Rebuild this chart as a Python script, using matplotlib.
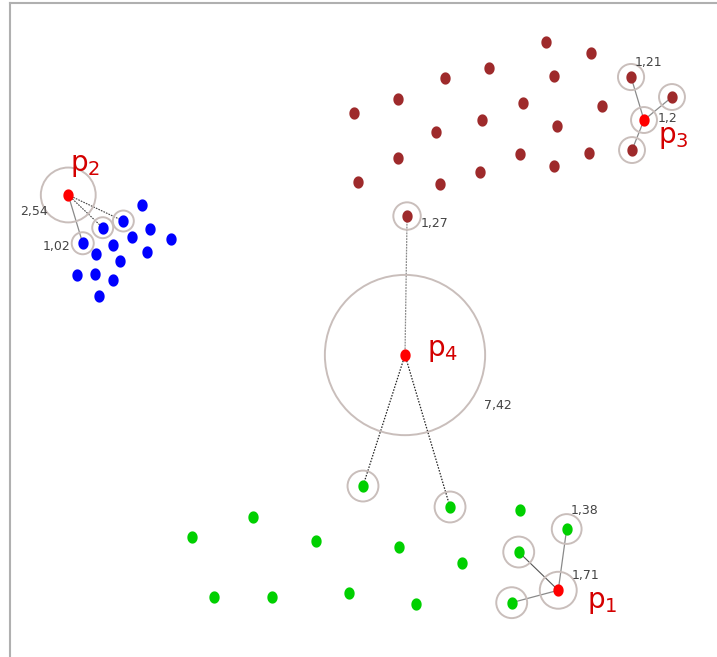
import numpy as np
import matplotlib
matplotlib.use("Agg")
import matplotlib.pyplot as plt
from matplotlib.path import Path
from matplotlib.patches import Circle

# ---------------- data (data units) ----------------
brown_x = [50.53, 54.75, 45.25, 41.18, 51.32, 36.85, 32.78, 48.40, 55.77, 44.60,
           51.57, 40.40, 36.85, 48.15, 54.54, 51.27, 44.47, 33.18, 40.77,
           58.43, 62.22, 58.52, 37.69]
brown_y = [56.97, 55.95, 54.56, 53.64, 53.80, 51.64, 50.37, 51.27, 50.99, 49.72,
           49.19, 48.58, 46.18, 46.55, 46.69, 45.44, 44.91, 44.01, 43.77,
           53.70, 51.85, 46.94, 40.83]

blue_x = [13.12, 13.86, 15.86, 12.22, 10.46, 8.92, 13.61, 11.14, 7.13, 8.82, 10.46, 9.17,
          11.42, 9.51, 7.66]
blue_y = [41.85, 39.66, 38.70, 38.86, 38.12, 37.29, 37.53, 36.69, 35.37, 35.49, 34.88, 33.45,
          40.37, 39.75, 38.31]

green_x = [23.40, 17.81, 29.23, 36.97, 42.81, 19.84, 25.19, 32.29, 38.49, 48.15,
           33.61, 41.67, 52.47, 48.03, 47.38]
green_y = [12.99, 11.11, 10.74, 10.21, 8.70, 5.53, 5.53, 5.90, 4.88, 13.61,
           15.83, 13.89, 11.85, 9.72, 5.03]

# query points p1..p4
p_names = ["1", "2", "3", "4"]
p_x = [51.69, 6.32, 59.63, 37.50]
p_y = [6.18, 42.78, 49.72, 27.96]
p_kdist = [1.71, 2.54, 1.2, 7.42]          # ring radius around each p
p_kdist_label = ["1,71", "2,54", "1,2", "7,42"]

# neighbours of each p: (x, y, ring radius, label or None)
nb_x = [[52.47, 48.03, 47.38], [11.42, 9.51, 7.66], [58.43, 62.22, 58.52], [37.69, 33.61, 41.67]]
nb_y = [[11.85, 9.72, 5.03], [40.37, 39.75, 38.31], [53.70, 51.85, 46.94], [40.83, 15.83, 13.89]]
nb_r = [[1.38, 1.43, 1.43], [0.97, 0.97, 1.02], [1.21, 1.2, 1.2], [1.27, 1.43, 1.43]]
nb_label = [["1,38", None, None], [None, None, "1,02"], ["1,21", None, None], ["1,27", None, None]]

# ---------------- figure ----------------
W, H = 717, 657
S = 10.8  # px per data unit
fig = plt.figure(figsize=(W / 100, H / 100), dpi=100)
bottom_px = H + 33
ax = fig.add_axes([10 / W, 1 - bottom_px / H, 1.0, (bottom_px - 3) / H])
ax.set_xlim(10 / S, (10 + W) / S)
ax.set_ylim((H - bottom_px) / S, (H - 3) / S)
ax.set_xticks([])
ax.set_yticks([])
for s in ["right", "bottom"]:
    ax.spines[s].set_visible(False)
for s in ["left", "top"]:
    ax.spines[s].set_color("#b0b0b0")
    ax.spines[s].set_linewidth(1.5)

# slightly tall elliptical marker
t = np.linspace(0, 2 * np.pi, 60)
verts = np.column_stack([0.84 * np.cos(t), np.sin(t)])
ell = Path(verts, closed=True)
msize = 78

ring_col = "#c9bebb"
ring_lw = 1.4

# connecting lines (draw first)
line_styles = [
    [dict(color="#8a8a8a", ls="-", lw=0.9), dict(color="#555555", ls="-", lw=0.8), dict(color="#8a8a8a", ls="-", lw=0.9)],
    [dict(color="#444444", ls=(0, (1.5, 1)), lw=0.8), dict(color="#444444", ls=(0, (1.5, 1)), lw=0.8), dict(color="#8a8a8a", ls="-", lw=0.9)],
    [dict(color="#8a8a8a", ls="-", lw=0.9), dict(color="#8a8a8a", ls="-", lw=0.9), dict(color="#8a8a8a", ls="-", lw=0.9)],
    [dict(color="#8a8a8a", ls=(0, (1.5, 0.8)), lw=0.9), dict(color="#222222", ls=(0, (1.2, 1.2)), lw=0.9), dict(color="#222222", ls=(0, (1.2, 1.2)), lw=0.9)],
]
for i in range(4):
    for j in range(3):
        ax.plot([p_x[i], nb_x[i][j]], [p_y[i], nb_y[i][j]], zorder=1, **line_styles[i][j])

# rings
for i in range(4):
    ax.add_patch(Circle((p_x[i], p_y[i]), p_kdist[i], fill=False, ec=ring_col, lw=ring_lw, zorder=2))
    for j in range(3):
        ax.add_patch(Circle((nb_x[i][j], nb_y[i][j]), nb_r[i][j], fill=False, ec=ring_col, lw=ring_lw, zorder=2))

# points
ax.scatter(brown_x, brown_y, s=msize, marker=ell, color="#9e2a2b", linewidths=0, zorder=3)
ax.scatter(blue_x, blue_y, s=msize, marker=ell, color="#0000ff", linewidths=0, zorder=3)
ax.scatter(green_x, green_y, s=msize, marker=ell, color="#00d000", linewidths=0, zorder=3)
ax.scatter(p_x, p_y, s=msize, marker=ell, color="#ff0000", linewidths=0, zorder=4)

# labels
lab_col = "#444444"
lab_fs = 9
# k-distance labels of p (offset in pixels)
p_lab_off = [(13, 15, "left"), (-20, -17, "right"), (14, 2, "left"), (79, -50, "left")]
for i in range(4):
    dx, dy, ha = p_lab_off[i]
    ax.annotate(p_kdist_label[i], (p_x[i], p_y[i]), xytext=(dx, dy), textcoords="offset pixels",
                ha=ha, va="center", fontsize=lab_fs, color=lab_col)
nb_lab_off = [(4, 19, "left"), (-12, -3, "right"), (4, 15, "left"), (14, -7, "left")]
for i in range(4):
    for j in range(3):
        if nb_label[i][j]:
            dx, dy, ha = nb_lab_off[i]
            ax.annotate(nb_label[i][j], (nb_x[i][j], nb_y[i][j]), xytext=(dx, dy), textcoords="offset pixels",
                        ha=ha, va="center", fontsize=lab_fs, color=lab_col)

# p names
name_off = [(29, -12), (2, 30), (14, -17), (22, 5)]
for i in range(4):
    dx, dy = name_off[i]
    ax.annotate("p$_{%s}$" % p_names[i], (p_x[i], p_y[i]), xytext=(dx, dy), textcoords="offset pixels",
                ha="left", va="center", fontsize=20, color="#d40000")

fig.savefig("out.png", dpi=100)
